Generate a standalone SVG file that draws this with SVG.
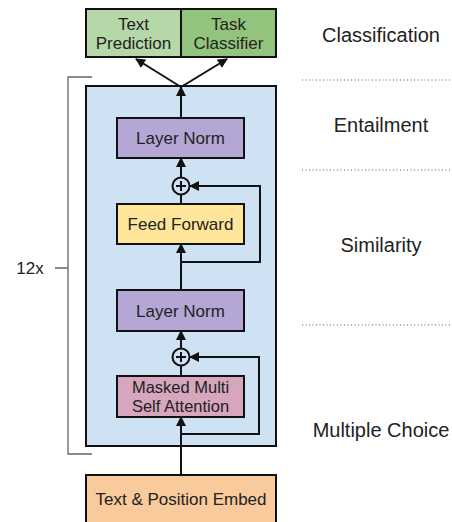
<svg xmlns="http://www.w3.org/2000/svg" width="452" height="522" viewBox="0 0 452 522">
<defs>
<style>
.box{stroke:#111;stroke-width:2}
.t{font-family:"Liberation Sans",Arial,sans-serif;fill:#222;text-anchor:middle}
.lbl{font-size:20px}
.c{stroke:#111;stroke-width:2;fill:none}
.dot{stroke:#555;stroke-width:1;stroke-dasharray:1 2.5}
</style>
<marker id="ah" viewBox="0 0 10 10" refX="9" refY="5" markerWidth="10" markerHeight="10" markerUnits="userSpaceOnUse" orient="auto">
<path d="M0,0 L10,5 L0,10 z" fill="#111"/>
</marker>
</defs>
<rect width="452" height="522" fill="#fff"/>

<g id="stack">
<rect class="box" x="86" y="86" width="190" height="360" fill="#cfe2f3"/>
</g>

<g id="bracket">
<path d="M92 77 H68 V454 H92 M55 268 H68" fill="none" stroke="#666" stroke-width="1.3"/>
<text class="t" x="30" y="274" font-size="17">12x</text>
</g>

<g id="connectors">
<line class="c" x1="181" y1="87" x2="136" y2="59" marker-end="url(#ah)"/>
<line class="c" x1="181" y1="87" x2="227" y2="59" marker-end="url(#ah)"/>
<line class="c" x1="181" y1="118" x2="181" y2="87" marker-end="url(#ah)"/>
<line class="c" x1="181" y1="177.5" x2="181" y2="158" marker-end="url(#ah)"/>
<line class="c" x1="181" y1="204" x2="181" y2="194.5"/>
<path class="c" d="M181 262 H260 V186 H190" marker-end="url(#ah)"/>
<line class="c" x1="181" y1="290" x2="181" y2="244" marker-end="url(#ah)"/>
<line class="c" x1="181" y1="348.5" x2="181" y2="331" marker-end="url(#ah)"/>
<line class="c" x1="181" y1="376" x2="181" y2="365.5"/>
<path class="c" d="M181 434 H259 V357 H190" marker-end="url(#ah)"/>
<line class="c" x1="181" y1="475" x2="181" y2="417" marker-end="url(#ah)"/>
</g>

<g id="text-prediction">
<rect class="box" x="86" y="9" width="95" height="48" fill="#b6d7a8"/>
<text class="t" x="133.5" y="30" font-size="17">Text</text>
<text class="t" x="133.5" y="49" font-size="17">Prediction</text>
</g>
<g id="task-classifier">
<rect class="box" x="181" y="9" width="95" height="48" fill="#93c47d"/>
<text class="t" x="228.5" y="30" font-size="17">Task</text>
<text class="t" x="228.5" y="49" font-size="17">Classifier</text>
</g>

<g id="layer-norm-1">
<rect class="box" x="117" y="118" width="127" height="40" fill="#b4a7d6"/>
<text class="t" x="180.5" y="144" font-size="17">Layer Norm</text>
</g>
<g id="add-1">
<circle cx="181" cy="186" r="8.5" fill="none" stroke="#111" stroke-width="2"/>
<path d="M176 186 H186 M181 181 V191" stroke="#111" stroke-width="2"/>
</g>
<g id="feed-forward">
<rect class="box" x="117" y="204" width="127" height="40" fill="#ffe599"/>
<text class="t" x="180.5" y="230" font-size="17">Feed Forward</text>
</g>
<g id="layer-norm-2">
<rect class="box" x="117" y="290" width="127" height="41" fill="#b4a7d6"/>
<text class="t" x="180.5" y="317" font-size="17">Layer Norm</text>
</g>
<g id="add-2">
<circle cx="181" cy="357" r="8.5" fill="none" stroke="#111" stroke-width="2"/>
<path d="M176 357 H186 M181 352 V362" stroke="#111" stroke-width="2"/>
</g>
<g id="masked-attention">
<rect class="box" x="117" y="376" width="127" height="41" fill="#d5a6bd"/>
<text class="t" x="180.5" y="393" font-size="16.5">Masked Multi</text>
<text class="t" x="180.5" y="412" font-size="16.5">Self Attention</text>
</g>
<g id="embed">
<rect class="box" x="86" y="475" width="190" height="60" fill="#f9cb9c"/>
<text class="t" x="181" y="505" font-size="17">Text &amp; Position Embed</text>
</g>

<g id="tasks">
<text class="t lbl" x="381" y="42">Classification</text>
<line class="dot" x1="302" y1="80" x2="450" y2="80"/>
<text class="t lbl" x="381" y="132">Entailment</text>
<line class="dot" x1="302" y1="170" x2="450" y2="170"/>
<text class="t lbl" x="381" y="252">Similarity</text>
<line class="dot" x1="302" y1="325" x2="450" y2="325"/>
<text class="t lbl" x="381" y="437">Multiple Choice</text>
</g>
</svg>
